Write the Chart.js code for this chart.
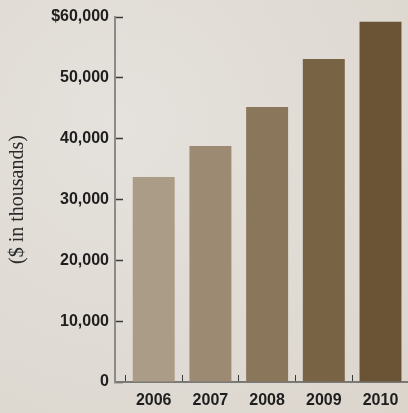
<!DOCTYPE html>
<html>
<head>
<meta charset="utf-8">
<title>Revenue 2006-2010</title>
<script src="https://cdn.jsdelivr.net/npm/chart.js@4"></script>
<style>
    html, body { margin: 0; padding: 0; }
    body {
        width: 408px;
        height: 413px;
        overflow: hidden;
        background: radial-gradient(ellipse at 30% 30%, #e5e1dc 0%, #dfdad3 60%, #dbd5cc 100%);
    }
    #wrap { position: relative; width: 408px; height: 413px; }
</style>
</head>
<body>
<div id="wrap"><canvas id="revenueChart"></canvas></div>
<script>
// Chart data
const years = ['2006', '2007', '2008', '2009', '2010'];
const revenue = [33700, 38800, 45200, 53100, 59200];
const barColors = ['#ab9c88', '#9c8a72', '#8a765b', '#786345', '#6a5435'];
const yTicks = [0, 10000, 20000, 30000, 40000, 50000, 60000];

const labelFont = { family: '"Liberation Sans Narrow", "Liberation Sans", Arial, sans-serif', weight: 'bold', size: 16 };

// bars sit on a linear index axis so the first bar keeps its gap from the y axis
const points = years.map((y, i) => ({ x: i, y: revenue[i] }));

new Chart(document.getElementById('revenueChart'), {
    type: 'bar',
    data: {
        datasets: [{
            data: points,
            backgroundColor: barColors,
            borderWidth: 0,
            categoryPercentage: 1,
            barPercentage: 0.74
        }]
    },
    options: {
        responsive: true,
        maintainAspectRatio: false,
        animation: false,
        layout: { padding: { top: 17, right: 0, left: 0, bottom: 0 } },
        plugins: { legend: { display: false }, tooltip: { enabled: false } },
        scales: {
            x: {
                type: 'linear',
                offset: false,
                min: -0.683,
                max: 4.485,
                afterBuildTicks: (scale) => {
                    scale.ticks = years.map((y, i) => ({ value: i }));
                },
                afterFit: (scale) => {
                    scale.height = 31;
                    scale.paddingLeft = 0;
                    scale.paddingRight = 0;
                },
                border: { display: true, color: '#7b7976', width: 2 },
                grid: {
                    display: true,
                    drawOnChartArea: false,
                    offset: true,
                    tickLength: -7,
                    tickColor: '#3a3a3a',
                    tickWidth: 1
                },
                ticks: {
                    padding: 16,
                    color: '#1e1e1e',
                    font: labelFont,
                    callback: (v) => years[v]
                }
            },
            y: {
                min: 0,
                max: 60000,
                afterBuildTicks: (scale) => {
                    scale.ticks = yTicks.map(v => ({ value: v }));
                },
                afterFit: (scale) => {
                    scale.width = 115;
                    scale.paddingTop = 0;
                    scale.paddingBottom = 0;
                },
                border: { display: true, color: '#8c8a87', width: 2 },
                grid: {
                    display: true,
                    drawOnChartArea: false,
                    tickLength: -8,
                    tickColor: '#3a3a3a',
                    tickWidth: 1.5
                },
                ticks: {
                    padding: 14,
                    color: '#1e1e1e',
                    font: labelFont,
                    callback: (v) => {
                        const s = v.toLocaleString('en-US');
                        return v === 60000 ? '$' + s : s;
                    }
                },
                title: {
                    display: true,
                    text: '($ in thousands)',
                    color: '#2a2a2a',
                    padding: { top: 6, bottom: 0 },
                    font: { family: '"Liberation Serif", "Times New Roman", serif', size: 20 }
                }
            }
        }
    }
});
</script>
</body>
</html>
